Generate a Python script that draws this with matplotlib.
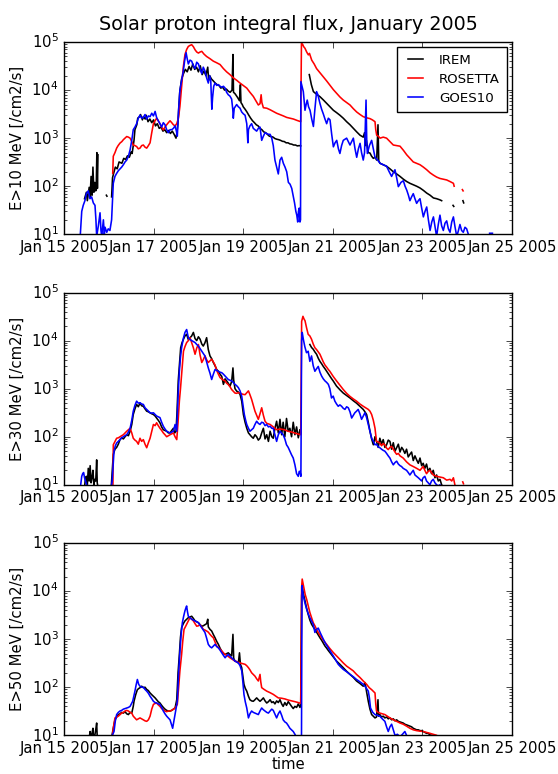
import numpy as np
import matplotlib
matplotlib.use('Agg')
import matplotlib.pyplot as plt
import matplotlib.dates as mdates
from datetime import datetime

# (hours since 2005-01-15 00:00 UT, flux in /cm2/s); None = data gap
# ---- E > 10 MeV
irem10 = [(11, 55), (12, 75), (12.5, 50), (13, 70), (13.5, 95), (14, 60), (14.5, 160), (15, 65),
          (15.5, 250), (16, 75), (16.5, 120), (17, 80), (17.3, 110), (17.6, 500), (17.9, 90), (18.2, 450), None,
          (22.7, 65), (23.0, 62), None,
          (25.5, 60), (26.0, 150), (26.5, 180), (27.5, 250), (28.5, 230), (29.5, 320), (31, 300), (32, 380),
          (33, 360), (34, 430), (35, 400), (36, 520), (36.5, 480), (37.5, 900), (38, 1500), (39, 1900),
          (39.5, 2600), (40.5, 2800), (41, 3100), (42, 2400), (42.5, 2800), (43.5, 2500), (44, 3000),
          (45, 2200), (46, 2500), (47, 2100), (48, 2400), (49, 1800), (50, 2000), (51, 1600), (52, 1700),
          (53, 1400), (54, 1500), (55, 1300), (56, 1450), (57, 1250), (58, 1400), (59, 1200), (60, 1000),
          (60.5, 1300), (61, 2000), (62, 9000), (63, 17000), (64, 22000), (65, 27000), (66, 24000),
          (67, 31000), (68, 26000), (69, 35000), (70, 27000), (71, 30000), (72, 24000), (73, 32000),
          (74, 21000), (75, 25000), (76, 20000), (77, 30000), (77.5, 16000), (78, 20000), (79, 17000),
          (80, 15500), (81, 14000), (82, 13000), (83, 12500), (84, 11000), (85, 11500), (86, 10000),
          (87, 10500), (88, 9500), (89, 9000), (90, 10000), (90.5, 55000), (90.8, 9000), (91.5, 8500),
          (92, 8000), (93, 7000), (94, 6000), (94.5, 13000), (94.8, 5500), (95.5, 5000), (96, 4500),
          (97, 4000), (98, 3500), (99, 3000), (100, 2600), (101, 2300), (102, 2100), (103, 1900),
          (104, 1800), (105, 1600), (106, 1500), (107, 1350), (108, 1300), (109, 1200), (110, 1100),
          (111, 1080), (112, 1050), (113, 980), (114, 950), (115, 930), (116, 900), (117, 860), (118, 850),
          (119, 800), (120, 800), (121, 760), (122, 750), (123, 720), (124, 720), (125, 690), (126, 700),
          (126.8, 690), None,
          (131.4, 21000), (132.5, 13000), (133.6, 9300), (135.3, 8200), (137.1, 7300), (139, 6200),
          (140.7, 5300), (142.5, 4500), (144.3, 3800), (146, 3400), (147.8, 3000), (149.6, 2600),
          (151.4, 2200), (153.2, 1900), (155, 1600), (156.8, 1350), (158.6, 1150), (160.3, 1050),
          (161, 1300), (161.5, 700), (162, 900), (163, 500), (163.9, 490), (164.8, 420), (165.7, 380),
          (166.6, 400), (167.5, 350), (168.2, 1900), (168.6, 340), (169.3, 300), (171, 280), (172.8, 260),
          (174.6, 230), (176.4, 200), (178.2, 180), (180, 160), (181.8, 140), (183.6, 125), (185.3, 115),
          (187.1, 107), (188.9, 100), (190.7, 92), (192.5, 82), (194.3, 72), (196.1, 65), (197.9, 57),
          (199.6, 55), (201.4, 52), (202.3, 50), None,
          (208.4, 40), (208.8, 38), None, (213.7, 50), (214.1, 45)]

rosetta10 = [(26.1, 185), (26.4, 420), (27.3, 500), (28.2, 620), (29, 700), (30, 790), (31, 850),
             (31.8, 930), (32.7, 1000), (33.6, 1080), (34.5, 1050), (35.4, 1000), (36.3, 850), (37.1, 720),
             (38, 700), (38.9, 670), (39.8, 600), (40.7, 620), (41.6, 700), (42.5, 720), (43.4, 650),
             (44.3, 620), (45.2, 700), (46.1, 800), (47, 1300), (47.9, 2000), (48.8, 2300), (49.6, 2600),
             (50.5, 2300), (51.4, 2000), (52.3, 1700), (53.2, 1480), (54.1, 1700), (55, 1900), (55.9, 2100),
             (56.8, 2300), (57.7, 2100), (58.6, 1900), (59.5, 1800), (60.4, 2000), (61.3, 2600), (62.1, 4600),
             (63, 12000), (63.9, 30000), (64.8, 55000), (65.7, 70000), (66.6, 81000), (67.5, 85000),
             (68.4, 88000), (69.3, 80000), (70.2, 69000), (71.1, 62000), (72, 59000), (72.9, 62000),
             (73.8, 64000), (75, 56000), (76.4, 50000), (78.2, 45000), (80, 40000), (81.8, 37000),
             (83.6, 34000), (85.4, 28000), (87.1, 24000), (88.9, 21000), (90.7, 18000), (92.5, 16000),
             (94.3, 14000), (96, 12500), (97.9, 11000), (99.6, 9000), (101.4, 7400), (102.8, 6000),
             (104.1, 4900), (105, 5200), (105.6, 8000), (106, 5500), (106.8, 4300), (108.6, 4200),
             (110.4, 3900), (112.1, 3600), (113.9, 3300), (115.7, 3100), (117.5, 2900), (119.3, 2700),
             (121.1, 2600), (122.9, 2500), (124.7, 2350), (126.8, 2200), (127.2, 93000), (127.8, 90000),
             (128.4, 80000), (129.1, 74000), (130, 62000), (130.9, 54000), (131.5, 58000), (132.7, 42000),
             (134, 35000), (135.3, 28000), (137.1, 23000), (138.9, 19000), (140.7, 15500), (142.5, 12600),
             (144.3, 10200), (146.1, 8500), (147.8, 7200), (149.6, 6200), (151.4, 5500), (153.2, 4900),
             (155, 4100), (156.8, 3500), (158.6, 3100), (160.3, 2800), (162.1, 2650), (163.9, 2550),
             (165.2, 2400), (166.6, 2200), (167, 1500), (167.5, 1150), (168.4, 1100), (169.3, 1000),
             (171, 1050), (172.8, 1000), (174.6, 850), (176.4, 720), (178.2, 700), (180, 680), (181.8, 560),
             (183.6, 450), (185.3, 380), (187.1, 320), (188.9, 300), (190.7, 280), (192.5, 250),
             (194.3, 220), (196.1, 190), (197.9, 170), (199.6, 155), (201.4, 145), (203.2, 140), (205, 135),
             (206.8, 125), (208.6, 115), (209, 100), None, (213.4, 85), (213.8, 80)]

goes10 = [(8.6, 8), (9.5, 30), (10.3, 40), (11.2, 50), (12, 70), (13, 80), (13.9, 55), (14.8, 60),
          (15.7, 45), (16.6, 40), (17.1, 20), (17.5, 9), (18.4, 15), (19.3, 28), (19.8, 12), (20.2, 9),
          (21.1, 20), (21.6, 10), (22.0, 14), (22.9, 11), (23.7, 13), (24.6, 12), (25.5, 20), (26.4, 115),
          (27.3, 160), (28.2, 185), (29.1, 210), (30, 230), (30.9, 250), (31.8, 280), (32.7, 320),
          (33.6, 350), (34.5, 420), (35.4, 570), (36.3, 900), (37.1, 1500), (38, 1700), (38.9, 2000),
          (39.8, 2600), (40.7, 3000), (41.6, 2600), (42.5, 2700), (43.4, 3100), (44.3, 2500), (45.2, 2900),
          (46.1, 2800), (47, 3300), (47.9, 2900), (48.8, 3600), (49.6, 2700), (50.5, 2300), (51.4, 2000),
          (52.3, 1700), (53.2, 2100), (54.1, 1900), (55, 1500), (55.9, 1300), (56.8, 1500), (57.7, 1500),
          (58.6, 1600), (59.5, 1800), (60.2, 1400), (60.7, 1100), (61.4, 4000), (62.1, 10000),
          (63, 16000), (63.9, 25000), (64.6, 40000), (65.4, 60000), (66, 45000), (66.6, 35000),
          (67.5, 42000), (68.4, 40000), (69.3, 32000), (70.2, 28000), (71.1, 38000), (72, 35000),
          (72.9, 27000), (73.8, 22000), (74.6, 30000), (75.5, 25000), (76.4, 18000), (77.3, 14000),
          (78, 20000), (78.6, 16000), (79.2, 4000), (79.6, 7000), (80.2, 12000), (80.9, 14000),
          (81.8, 12500), (82.7, 13000), (83.6, 12000), (84.5, 11500), (85.4, 12000), (86.3, 11000),
          (87.1, 9000), (88, 8000), (88.9, 7500), (89.8, 6500), (90.4, 4000), (90.7, 2600), (91.2, 4200),
          (92.5, 5000), (93.4, 4500), (94.3, 4200), (95.2, 3500), (96.1, 3200), (97, 3000), (97.9, 2000),
          (98.5, 800), (98.8, 1500), (99.6, 1800), (100.5, 2000), (101.4, 1600), (102.3, 1500),
          (103.2, 1400), (104.1, 1600), (105, 1700), (105.9, 900), (106.8, 1100), (107.7, 1300),
          (108.6, 1250), (109.5, 1200), (110.4, 1200), (111.3, 1000), (112.1, 700), (113, 350),
          (113.9, 250), (114.8, 180), (115.7, 350), (116.6, 400), (117.5, 300), (118.4, 250), (119.3, 200),
          (120.2, 120), (121.1, 110), (122, 90), (122.9, 60), (123.5, 45), (124.2, 30), (124.7, 25),
          (125.2, 18), (125.6, 30), (126, 35), (126.4, 18), (126.7, 20), (126.9, 15000), (127.5, 12000),
          (128.2, 9300), (129.1, 3800), (129.7, 5000), (130.3, 6200), (131, 4500), (131.8, 3800),
          (132.7, 2500), (133.6, 1750), (134.4, 4000), (135.3, 9300), (136, 8000), (137.1, 5300),
          (138, 4000), (138.9, 3200), (139.8, 2500), (140.7, 2000), (141.6, 2600), (142.5, 2400),
          (143.4, 1200), (144.3, 660), (145.2, 800), (146.1, 900), (147, 600), (147.8, 480), (148.7, 700),
          (149.6, 900), (150.5, 950), (151.4, 1000), (152.3, 850), (153.2, 720), (154.1, 850), (155, 1000),
          (155.9, 600), (156.8, 400), (157.7, 600), (158.6, 780), (159.4, 500), (160.3, 350), (161, 500),
          (161.8, 6200), (162.2, 800), (162.5, 480), (163.6, 700), (164.8, 900), (165.7, 600), (166.6, 400),
          (168, 350), (169.3, 300), (171, 280), (172.8, 260), (174.2, 200), (175.5, 160), (176.4, 190),
          (177.3, 220), (178.2, 150), (179.1, 98), (180.5, 120), (181.8, 130), (182.7, 100), (183.6, 83),
          (184.5, 65), (185.3, 50), (186.2, 60), (187.1, 70), (188, 55), (188.9, 44), (189.8, 50),
          (190.7, 55), (191.6, 35), (192.5, 23), (193.4, 30), (194.3, 37), (195.2, 20), (196.1, 12),
          (197, 18), (197.9, 23), (198.8, 14), (199.6, 9), (200.5, 16), (201.4, 25), (202.3, 15),
          (203.2, 12), (204.1, 17), (205, 19), (205.9, 13), (206.8, 11), (207.7, 18), (208.6, 23),
          (209.5, 14), (210.4, 9), (211.3, 12), (212.1, 16), (213, 12), (213.9, 11), (214.8, 14),
          (215.7, 13), (216.6, 10), (217.5, 8), None, (228, 10.5), (229.5, 10.5)]

# ---- E > 30 MeV
irem30 = [(11, 9), (11.5, 14), (12, 15), (12.5, 10), (13, 22), (13.5, 12), (14, 25), (14.5, 11),
          (15, 14), (15.5, 20), (16, 10), (16.5, 13), (17, 12), (17.5, 33), (17.8, 11), (18.2, 9), None,
          (25.3, 9), (26.4, 43), (27.3, 55), (28.2, 60), (29.1, 70), (30, 87), (30.9, 95), (31.8, 90),
          (32.7, 100), (33.6, 110), (34.5, 105), (35.4, 130), (36.3, 180), (37.1, 290), (38, 380),
          (38.9, 470), (39.8, 420), (40.7, 500), (41.6, 440), (42.5, 430), (43.4, 380), (44.3, 340),
          (45.2, 330), (46.1, 315), (47, 300), (47.9, 290), (48.8, 270), (49.6, 245), (50.5, 220),
          (51.4, 195), (52.3, 160), (53.2, 140), (54.1, 135), (55, 130), (55.9, 120), (56.8, 120),
          (57.7, 135), (58.6, 150), (59.3, 120), (60, 130), (60.5, 300), (61.2, 1450), (62.5, 7100),
          (63.2, 9000), (64, 10700), (64.8, 12500), (65.7, 13500), (66.6, 10500), (67.5, 11500),
          (68.4, 12500), (69.3, 14800), (70.2, 11000), (71.1, 10000), (72, 12000), (72.9, 10700),
          (73.8, 8500), (74.6, 7700), (75.5, 9000), (76.4, 11500), (77.3, 6500), (78.2, 4800), (79.1, 4200),
          (80, 3500), (80.9, 3000), (81.8, 2500), (82.7, 2300), (83.6, 2000), (84.5, 1800), (85.4, 1230),
          (86.3, 1600), (87.1, 1450), (88, 1300), (88.9, 1120), (89.8, 1400), (90.5, 2700), (90.9, 1500),
          (91.6, 1000), (92.5, 890), (93.4, 850), (94.3, 760), (95.2, 550), (96.1, 290), (97, 200),
          (97.9, 150), (98.8, 120), (99.6, 110), (100.5, 100), (101.4, 93), (102.3, 110), (103.2, 100),
          (104.1, 85), (105, 93), (105.9, 120), (106.8, 150), (107.7, 90), (108.6, 110), (109.5, 80),
          (110.4, 130), (111.3, 100), (112.1, 93), (113, 150), (113.9, 210), (114.8, 120), (115.7, 230),
          (116.6, 110), (117.4, 200), (118.3, 100), (119.2, 240), (120.1, 130), (121, 150), (121.9, 100),
          (122.8, 200), (123.7, 110), (124.6, 160), (125.5, 95), (126.4, 140), (126.8, 120), None,
          (131.7, 8300), (132.6, 7200), (133.5, 6600), (134.4, 5800), (135.3, 5200), (136.2, 4300),
          (137.1, 3700), (138, 3300), (138.9, 2900), (139.8, 2600), (140.7, 2300), (141.6, 2050),
          (142.4, 1830), (143.3, 1620), (144.2, 1450), (145.1, 1280), (146, 1130), (147.8, 950),
          (149.6, 810), (151.4, 720), (153.2, 640), (155, 560), (156.7, 500), (158.5, 430), (160.3, 370),
          (161.2, 330), (162.1, 290), (163, 200), (163.9, 130), (164.8, 90), (165.7, 68), (166.6, 100),
          (167.4, 80), (168.3, 60), (169.2, 93), (170.1, 70), (171, 87), (171.9, 60), (172.8, 68),
          (173.7, 85), (174.6, 80), (175.5, 55), (176.4, 75), (177.3, 50), (178.2, 59), (179.1, 70),
          (180, 48), (180.9, 60), (181.7, 54), (182.6, 45), (183.5, 55), (184.4, 38), (185.3, 43),
          (186.2, 48), (187.1, 32), (188, 40), (188.9, 33), (189.8, 28), (190.7, 36), (191.6, 25),
          (192.4, 28), (193.3, 22), (194.2, 27), (195.1, 19), (196, 22), (196.9, 17), (197.8, 20),
          (198.7, 14), (199.6, 16), (200.5, 12), (201.4, 13), (202.3, 10), (203.2, 9)]

rosetta30 = [(26.2, 9), (26.4, 68), (27.3, 80), (28.2, 93), (29.1, 95), (30, 100), (30.9, 105),
             (31.8, 110), (32.7, 120), (33.6, 130), (34.5, 140), (35.4, 150), (36.3, 120), (37.1, 93),
             (38, 85), (38.9, 80), (39.8, 70), (40.7, 93), (41.6, 80), (42.5, 87), (43.4, 70), (44.3, 59),
             (45.2, 75), (46.1, 93), (47, 130), (47.9, 180), (48.8, 170), (49.6, 195), (50.5, 170),
             (51.4, 150), (52.3, 135), (53.2, 120), (54.1, 110), (55, 100), (55.9, 105), (56.8, 110),
             (57.7, 115), (58.6, 120), (59.5, 100), (60.4, 87), (61.1, 200), (61.8, 550), (62.4, 1000),
             (63, 2000), (63.5, 3500), (64, 6000), (64.8, 7500), (65.7, 9100), (66.6, 10000), (67.5, 11500),
             (68.4, 9000), (69.3, 7100), (70.2, 5200), (71.1, 7000), (72, 8300), (72.9, 5000), (73.8, 3500),
             (74.6, 4000), (75.5, 4800), (76.4, 4000), (77.3, 3500), (78.2, 3800), (79.1, 4100), (80, 3600),
             (80.9, 3100), (81.8, 2400), (82.7, 2000), (83.6, 1700), (84.5, 1600), (85.4, 1500),
             (86.3, 1450), (87.1, 1300), (88, 1220), (88.9, 1100), (89.8, 960), (90.7, 880), (91.6, 810),
             (92.5, 800), (93.4, 830), (94.3, 810), (95.2, 780), (96.1, 760), (97, 750), (97.9, 820),
             (98.8, 900), (99.6, 750), (100.5, 600), (101.4, 450), (102.3, 340), (103.2, 280), (104.1, 230),
             (105, 300), (105.9, 400), (106.8, 280), (107.7, 210), (108.6, 190), (110.4, 180), (112.1, 160),
             (113.9, 140), (116, 145), (118, 140), (120, 130), (122, 125), (124, 118), (126.8, 110),
             (127.3, 25000), (128, 32000), (128.6, 28000), (129.1, 26000), (130, 18000), (130.8, 13500),
             (131.7, 12500), (132.6, 10700), (133.5, 8500), (134.4, 7100), (135.3, 6500), (136.2, 5800),
             (137.1, 5200), (138, 4300), (138.9, 3600), (139.8, 3100), (140.7, 2800), (141.6, 2500),
             (142.4, 2300), (144.2, 1800), (146, 1450), (147.8, 1180), (149.6, 960), (151.4, 800),
             (153.2, 690), (155, 610), (156.7, 550), (158.5, 480), (160.3, 430), (161.6, 400), (163, 370),
             (163.9, 340), (164.8, 290), (165.7, 220), (166.6, 150), (167.4, 80), (168.3, 78), (169.2, 74),
             (170.1, 65), (171, 72), (171.9, 68), (172.8, 58), (173.7, 54), (174.6, 60), (175.5, 63),
             (176.4, 55), (177.3, 48), (178.2, 43), (179.1, 45), (180, 40), (181.7, 36), (183.5, 30),
             (185.3, 26), (187.1, 24), (188.9, 22), (190.7, 20), (192.4, 24), (193.3, 20), (194.2, 17),
             (195.1, 19), (196, 20), (197.8, 16), (199.6, 15), (201.4, 14.5), (203.2, 14), (205, 12.5),
             (206.8, 13), (207.7, 12), (208.6, 14), (209.4, 10), (209.8, 9), None, (213.6, 11.5), (214, 10.5)]

goes30 = [(8.8, 9), (9.5, 15), (10, 17), (10.5, 18), (11, 14), (11.5, 12), (12.1, 10), (12.6, 9), None,
          (25.3, 9), (25.8, 12), (26.8, 50), (27.5, 65), (28.2, 74), (29.1, 80), (30, 87), (30.9, 95),
          (31.8, 100), (32.7, 105), (33.6, 110), (34.5, 125), (35.4, 150), (36.3, 220), (37.1, 340),
          (38, 450), (38.9, 550), (39.8, 500), (40.7, 510), (41.6, 480), (42.5, 470), (43.4, 400),
          (44.3, 370), (45.2, 340), (46.1, 315), (47, 310), (47.9, 315), (48.8, 290), (49.6, 270),
          (50.5, 260), (51.4, 250), (52.3, 200), (53.2, 165), (54.1, 145), (55, 130), (55.9, 125),
          (56.8, 120), (57.7, 125), (58.6, 130), (59.5, 180), (60.4, 130), (61.1, 700), (61.8, 2300),
          (62.4, 4500), (63, 7100), (63.9, 11000), (64.8, 14800), (65.7, 17000), (66.6, 11500),
          (67.5, 10500), (68.4, 10000), (69.3, 9500), (70.2, 9100), (71.1, 8300), (72, 7700), (72.9, 6800),
          (73.8, 6000), (74.6, 5400), (75.5, 4800), (76.4, 3600), (77.3, 2700), (78.2, 2100), (79.1, 1550),
          (80, 2000), (80.9, 2500), (81.8, 2400), (82.7, 2300), (83.6, 2200), (84.5, 2150), (85.4, 2000),
          (86.3, 1830), (87.1, 1700), (88, 1550), (88.9, 1500), (89.8, 1450), (90.7, 1350), (91.6, 1230),
          (92.5, 1150), (93.4, 1050), (94.3, 900), (95.2, 700), (95.9, 450), (96.6, 290), (97.3, 220),
          (97.9, 180), (98.8, 150), (99.6, 130), (100.5, 140), (101.4, 150), (102.3, 180), (103.2, 210),
          (104.1, 190), (105, 180), (105.9, 200), (106.8, 195), (107.7, 170), (108.6, 180), (109.5, 160),
          (110.4, 165), (111.3, 150), (112.1, 150), (113, 110), (113.9, 80), (114.8, 110), (115.7, 130),
          (116.6, 120), (117.4, 110), (118.3, 90), (119.2, 68), (120.1, 60), (121, 50), (121.9, 42),
          (122.8, 36), (123.7, 26), (124.6, 17), (125.5, 15), (126, 19), (126.4, 19), (126.9, 15),
          (127.3, 10000), (127.6, 14800), (128.2, 10700), (129, 7500), (129.9, 5600), (130.8, 6000),
          (131.7, 3700), (132.6, 4800), (133.5, 3000), (134.4, 2300), (135.3, 2600), (136.2, 2900),
          (137.1, 2200), (138, 1830), (138.9, 1600), (139.8, 1450), (140.7, 1350), (141.6, 1230),
          (142.4, 1000), (143.3, 640), (144.2, 700), (145.1, 550), (146, 480), (146.9, 430), (147.8, 460),
          (148.7, 430), (149.6, 390), (150.5, 370), (151.4, 420), (152.3, 400), (153.2, 330), (154.1, 245),
          (155, 280), (155.8, 315), (156.7, 340), (157.6, 370), (158.5, 300), (159.4, 230), (160.3, 270),
          (161.2, 315), (162.1, 250), (163, 180), (163.9, 130), (164.8, 93), (165.7, 80), (166.6, 68),
          (167.4, 70), (168.3, 62), (169.2, 59), (170.1, 55), (171, 52), (171.9, 50), (172.8, 45),
          (173.7, 40), (174.6, 36), (175.5, 30), (176.4, 26), (177.3, 29), (178.2, 31), (179.1, 27),
          (180, 25), (180.8, 24), (181.7, 22), (182.6, 21), (183.5, 20), (184.4, 18), (185.3, 16),
          (186.2, 18), (187.1, 20), (188, 16), (188.9, 15), (189.8, 14), (190.7, 13), (191.6, 12),
          (192.4, 14), (193.3, 15), (194.2, 12), (195.1, 11), (196, 10), (196.9, 12), (197.8, 13),
          (198.7, 11), (199.6, 10), (200.5, 9.5), (201.4, 10), (202.3, 9)]

# ---- E > 50 MeV
irem50 = [(13.5, 9), (14, 12), (14.3, 9), (15, 11), (15.5, 14), (15.8, 9), (16.5, 10), (17, 13),
          (17.5, 18), (17.8, 9), None,
          (25.5, 9), (26.4, 14), (27.3, 21), (28.2, 24), (29.1, 27), (30, 28), (30.9, 30), (31.8, 29),
          (32.7, 31), (33.6, 28), (34.5, 27), (35.4, 30), (36.3, 29), (37.1, 40), (37.5, 51), (38.4, 70),
          (39.3, 89), (40.2, 95), (41.1, 100), (41.6, 105), (42.5, 98), (43.4, 100), (44.3, 90), (45.2, 85),
          (46.1, 76), (47, 70), (47.9, 65), (48.8, 60), (49.6, 55), (50.5, 50), (51.4, 47), (52.3, 42),
          (53.2, 38), (54.1, 35), (55, 33), (55.9, 32), (56.8, 32), (57.7, 33), (58.6, 35), (59.5, 37),
          (60.4, 55), (61.1, 200), (61.8, 480), (62.4, 1100), (63, 1740), (63.9, 2100), (64.8, 2400),
          (65.7, 2600), (66.6, 2800), (67.5, 2900), (68.4, 3000), (69.3, 2700), (70.2, 2400), (71.1, 2300),
          (72, 2200), (72.9, 2000), (73.8, 1860), (74.6, 1900), (75.5, 2000), (76.4, 2100), (77, 2600),
          (77.3, 1800), (78.2, 1600), (79.1, 1480), (80, 1250), (80.9, 1070), (81.8, 900), (82.7, 780),
          (83.6, 650), (84.5, 560), (85.4, 500), (86.3, 480), (87.1, 500), (88, 520), (88.9, 480),
          (89.8, 450), (90.5, 1260), (90.9, 400), (91.6, 350), (92.5, 340), (93.4, 320), (94, 520),
          (94.5, 300), (95.2, 255), (95.8, 170), (96.4, 115), (97.1, 95), (97.9, 83), (98.8, 65),
          (99.6, 55), (100.5, 52), (101.4, 51), (102.3, 55), (103.2, 60), (104.1, 55), (105, 51),
          (105.9, 55), (106.8, 60), (107.7, 52), (108.6, 47), (109.5, 50), (110.4, 55), (111.3, 48),
          (112.1, 50), (113, 45), (113.9, 52), (114.8, 48), (115.7, 55), (116.6, 45), (117.4, 40),
          (118.3, 48), (119.2, 42), (120.1, 50), (121, 45), (121.9, 40), (122.8, 36), (123.7, 40),
          (124.6, 38), (125.5, 45), (126.4, 38), (126.8, 42), (127.3, 8000), (127.6, 12000), (128.2, 9000),
          (129.1, 6300), (129.9, 4500), (130.8, 3300), (131.7, 2500), (132.6, 2050), (133.5, 1800),
          (134.4, 1600), (135.3, 1400), (136.2, 1230), (137.1, 1070), (138, 950), (138.9, 830),
          (139.8, 720), (140.7, 650), (141.6, 580), (142.4, 530), (144.2, 430), (146, 350), (147.8, 300),
          (149.6, 255), (151.4, 215), (153.2, 185), (155, 160), (156.7, 135), (158.5, 120), (160.3, 105),
          (161.2, 125), (161.7, 100), (162.1, 80), (163, 51), (163.9, 35), (164.8, 27), (165.7, 25),
          (166.6, 23), (167.4, 24), (168.2, 55), (168.5, 25), (169.2, 27), (170.1, 24), (171, 25),
          (171.9, 23), (172.8, 24), (173.7, 22), (174.6, 23), (175.5, 21), (176.4, 22), (177.3, 20),
          (178.2, 21), (179.1, 19.5), (180, 19), (180.9, 18.5), (181.7, 18), (182.6, 17), (183.5, 16.5),
          (184.4, 16), (185.3, 15.5), (186.2, 15), (187.1, 14), (188, 13.5), (188.9, 13), (189.8, 13),
          (190.7, 12.5), (191.6, 12.5), (192.4, 12), (193.3, 11.5), (194.2, 11), (195.1, 11), (196, 10.2),
          (196.9, 10), (197.8, 9.5)]

rosetta50 = [(25.8, 9), (26.4, 14), (27.3, 23), (28.2, 24), (29.1, 25), (30, 27), (30.9, 29), (31.8, 30),
             (32.7, 32), (33.6, 33), (34.5, 32), (35.4, 30), (36.3, 29), (37.1, 25), (38, 23), (38.9, 21),
             (39.8, 22), (40.7, 23), (41.6, 22), (42.5, 21), (43.4, 20), (44.3, 19.5), (45.2, 21), (46.1, 25),
             (47, 35), (47.9, 44), (48.8, 46), (49.6, 47), (50.5, 43), (51.4, 40), (52.3, 36), (53.2, 34),
             (54.1, 32), (55, 31), (55.9, 32), (56.8, 32), (57.7, 33), (58.6, 35), (59.5, 37), (60.7, 44),
             (61.4, 100), (62.1, 220), (63, 480), (63.6, 900), (64.3, 1600), (65, 1800), (65.7, 2050),
             (66.6, 2400), (67.5, 2800), (68.4, 2600), (69.3, 2400), (70.2, 2100), (71.1, 1860), (72, 1900),
             (72.9, 2000), (73.8, 1800), (74.6, 1600), (75.5, 1550), (76.4, 1480), (77.3, 1400), (78.2, 1260),
             (79.1, 1150), (80, 1070), (80.9, 880), (81.8, 720), (82.7, 670), (83.6, 620), (84.5, 570),
             (85.4, 520), (86.3, 480), (87.6, 450), (88.9, 410), (90.2, 380), (91.6, 350), (92.9, 335),
             (94.3, 320), (95.6, 310), (97, 300), (97.9, 280), (98.8, 255), (99.6, 230), (100.5, 200),
             (101.4, 185), (102.3, 170), (103.2, 150), (104.1, 135), (104.6, 160), (105, 185), (105.4, 130),
             (105.9, 98), (107.2, 90), (108.6, 83), (110.4, 77), (112.1, 71), (113.5, 65), (114.8, 60),
             (116.6, 59), (118.4, 57), (120.2, 54), (122, 52), (123.8, 50), (125.5, 48), (126.8, 46),
             (127.3, 12000), (127.6, 17800), (128.5, 11700), (129.2, 8500), (130, 6700), (130.8, 5000),
             (131.7, 3600), (132.6, 2800), (133.5, 2200), (134.4, 1900), (135.3, 1600), (136.6, 1300),
             (138, 1070), (139.4, 900), (140.7, 780), (142.4, 640), (144.2, 530), (146, 450), (147.8, 380),
             (149.6, 320), (151.4, 275), (153.2, 245), (154.9, 220), (156.7, 185), (158.5, 160), (160.3, 135),
             (162.1, 115), (163.5, 98), (164.8, 89), (165.7, 82), (166.6, 76), (167, 45), (167.4, 32),
             (168.3, 30), (169.2, 29), (170.5, 28), (171.9, 27), (173.2, 25), (174.6, 23), (176.4, 21),
             (178.2, 19.5), (180, 18), (181.7, 17), (183.5, 15.5), (185.3, 14), (187.1, 13), (188.9, 12.5),
             (190.7, 12.2), (192.4, 12), (194.2, 11.5), (196, 11), (197.8, 10.5), (199.6, 10), (201.4, 9)]

goes50 = [(25.5, 9.3), (26.8, 12), (27.5, 20), (28.2, 27), (29.1, 30), (30, 32), (30.9, 33), (31.8, 35),
          (32.7, 36), (33.6, 37), (34.5, 38), (35.4, 40), (36.1, 45), (36.8, 51), (37.4, 65), (38, 83),
          (38.6, 110), (39.3, 145), (40, 115), (40.7, 105), (41.6, 100), (42.5, 100), (43.4, 90),
          (44.3, 83), (45.2, 75), (46.1, 65), (47, 58), (47.9, 51), (48.8, 48), (49.6, 47), (50.5, 45),
          (51.4, 44), (52.3, 38), (53.2, 32), (54.1, 28), (55, 25), (55.9, 23), (56.8, 21), (57.5, 17),
          (58.2, 14), (58.9, 20), (59.5, 27), (60.1, 38), (60.7, 51), (61.4, 200), (62.1, 560),
          (62.7, 1200), (63.4, 2200), (64.1, 3000), (64.8, 3900), (65.4, 4600), (65.7, 4900), (66.1, 3800),
          (66.6, 3000), (67.5, 2800), (68.4, 2600), (69.3, 2500), (70.2, 2400), (71.1, 2300), (72, 2200),
          (72.9, 1950), (73.8, 1740), (74.6, 1550), (75.5, 1380), (76.4, 1050), (77.3, 780), (78.2, 700),
          (79.1, 660), (80, 720), (80.9, 780), (81.8, 700), (82.7, 660), (83.6, 590), (84.5, 520),
          (85.4, 460), (86.3, 410), (87.1, 450), (88, 480), (88.9, 440), (89.8, 410), (90.7, 380),
          (91.6, 350), (92.5, 335), (93.4, 320), (94.3, 280), (95.2, 220), (95.8, 130), (96.4, 71),
          (97.1, 50), (97.9, 37), (98.8, 23), (99.6, 28), (100.5, 32), (101.4, 30), (102.3, 29),
          (103.2, 28), (104.1, 27), (105, 32), (105.9, 37), (106.8, 34), (107.7, 32), (108.6, 30),
          (109.5, 29), (110.4, 32), (111.3, 35), (112.1, 33), (113.1, 27), (113.9, 23), (114.8, 28),
          (115.7, 32), (116.6, 26), (117.4, 21), (118.3, 19), (119.2, 18), (120.1, 16), (121, 14),
          (121.9, 13), (122.8, 12), (123.7, 10.5), (124.6, 9), (125.5, 8), (126.5, 6), (127.2, 5),
          (127.5, 13000), (127.9, 10000), (128.2, 7900), (129.1, 5600), (130, 4200), (130.8, 3400),
          (131.7, 2800), (132.6, 2400), (133.5, 2050), (134.4, 1380), (135.3, 1600), (136.2, 1700),
          (137.5, 1300), (138.9, 1000), (140.2, 800), (141.6, 660), (142.9, 540), (144.2, 450),
          (145.5, 370), (146.9, 300), (148.2, 265), (149.6, 235), (151.4, 210), (153.2, 185), (155, 165),
          (156.7, 145), (158.5, 130), (160.3, 115), (161.6, 100), (163, 83), (163.6, 60), (164.2, 37),
          (165.4, 30), (166.6, 27), (167.9, 26), (169.2, 25), (170.5, 22), (171.9, 19.5), (172.8, 15),
          (173.7, 12), (174.6, 15), (175.5, 17), (176.4, 13), (177.3, 10), (178.6, 10.5), (180, 9.3),
          (181.3, 10.5), (182.6, 12), (183.5, 10), (184.4, 9)]

panels = [
    ('E>10 MeV [/cm2/s]', irem10, rosetta10, goes10),
    ('E>30 MeV [/cm2/s]', irem30, rosetta30, goes30),
    ('E>50 MeV [/cm2/s]', irem50, rosetta50, goes50),
]

t0 = mdates.date2num(datetime(2005, 1, 15))


def to_xy(series):
    x = []
    y = []
    for p in series:
        if p is None:
            x.append(np.nan)
            y.append(np.nan)
        else:
            x.append(t0 + p[0] / 24.0)
            y.append(p[1])
    return np.array(x), np.array(y)


plt.style.use('classic')
plt.rcParams['font.size'] = 10.7

fig = plt.figure(figsize=(5.58, 7.74), dpi=100, facecolor='white')
fig.subplots_adjust(left=0.1147, right=0.9176, top=0.9457, bottom=0.05, hspace=0.303)

for i, (ylab, irem, ros, goes) in enumerate(panels):
    ax = fig.add_subplot(3, 1, i + 1)
    for series, col, lab in [(irem, 'k', 'IREM'), (ros, 'r', 'ROSETTA'), (goes, 'b', 'GOES10')]:
        x, y = to_xy(series)
        ax.plot(x, y, color=col, lw=1.15, label=lab)
    ax.set_yscale('log')
    ax.set_ylim(10, 1e5)
    ax.set_xlim(t0, t0 + 10)
    ax.xaxis.set_major_locator(mdates.DayLocator(bymonthday=[15, 17, 19, 21, 23, 25]))
    ax.xaxis.set_major_formatter(mdates.DateFormatter('%b %d %Y'))
    ax.set_ylabel(ylab)
    if i == 0:
        ax.set_title('Solar proton integral flux, January 2005', fontsize=13.8, pad=9)
        ax.legend(loc='upper right', fontsize=9.6, handlelength=1.75, handletextpad=0.9,
                  borderpad=0.5, labelspacing=0.45, borderaxespad=0.4)
    if i == 2:
        ax.set_xlabel('time', labelpad=1)

fig.savefig('out.png', dpi=100, facecolor='white')
